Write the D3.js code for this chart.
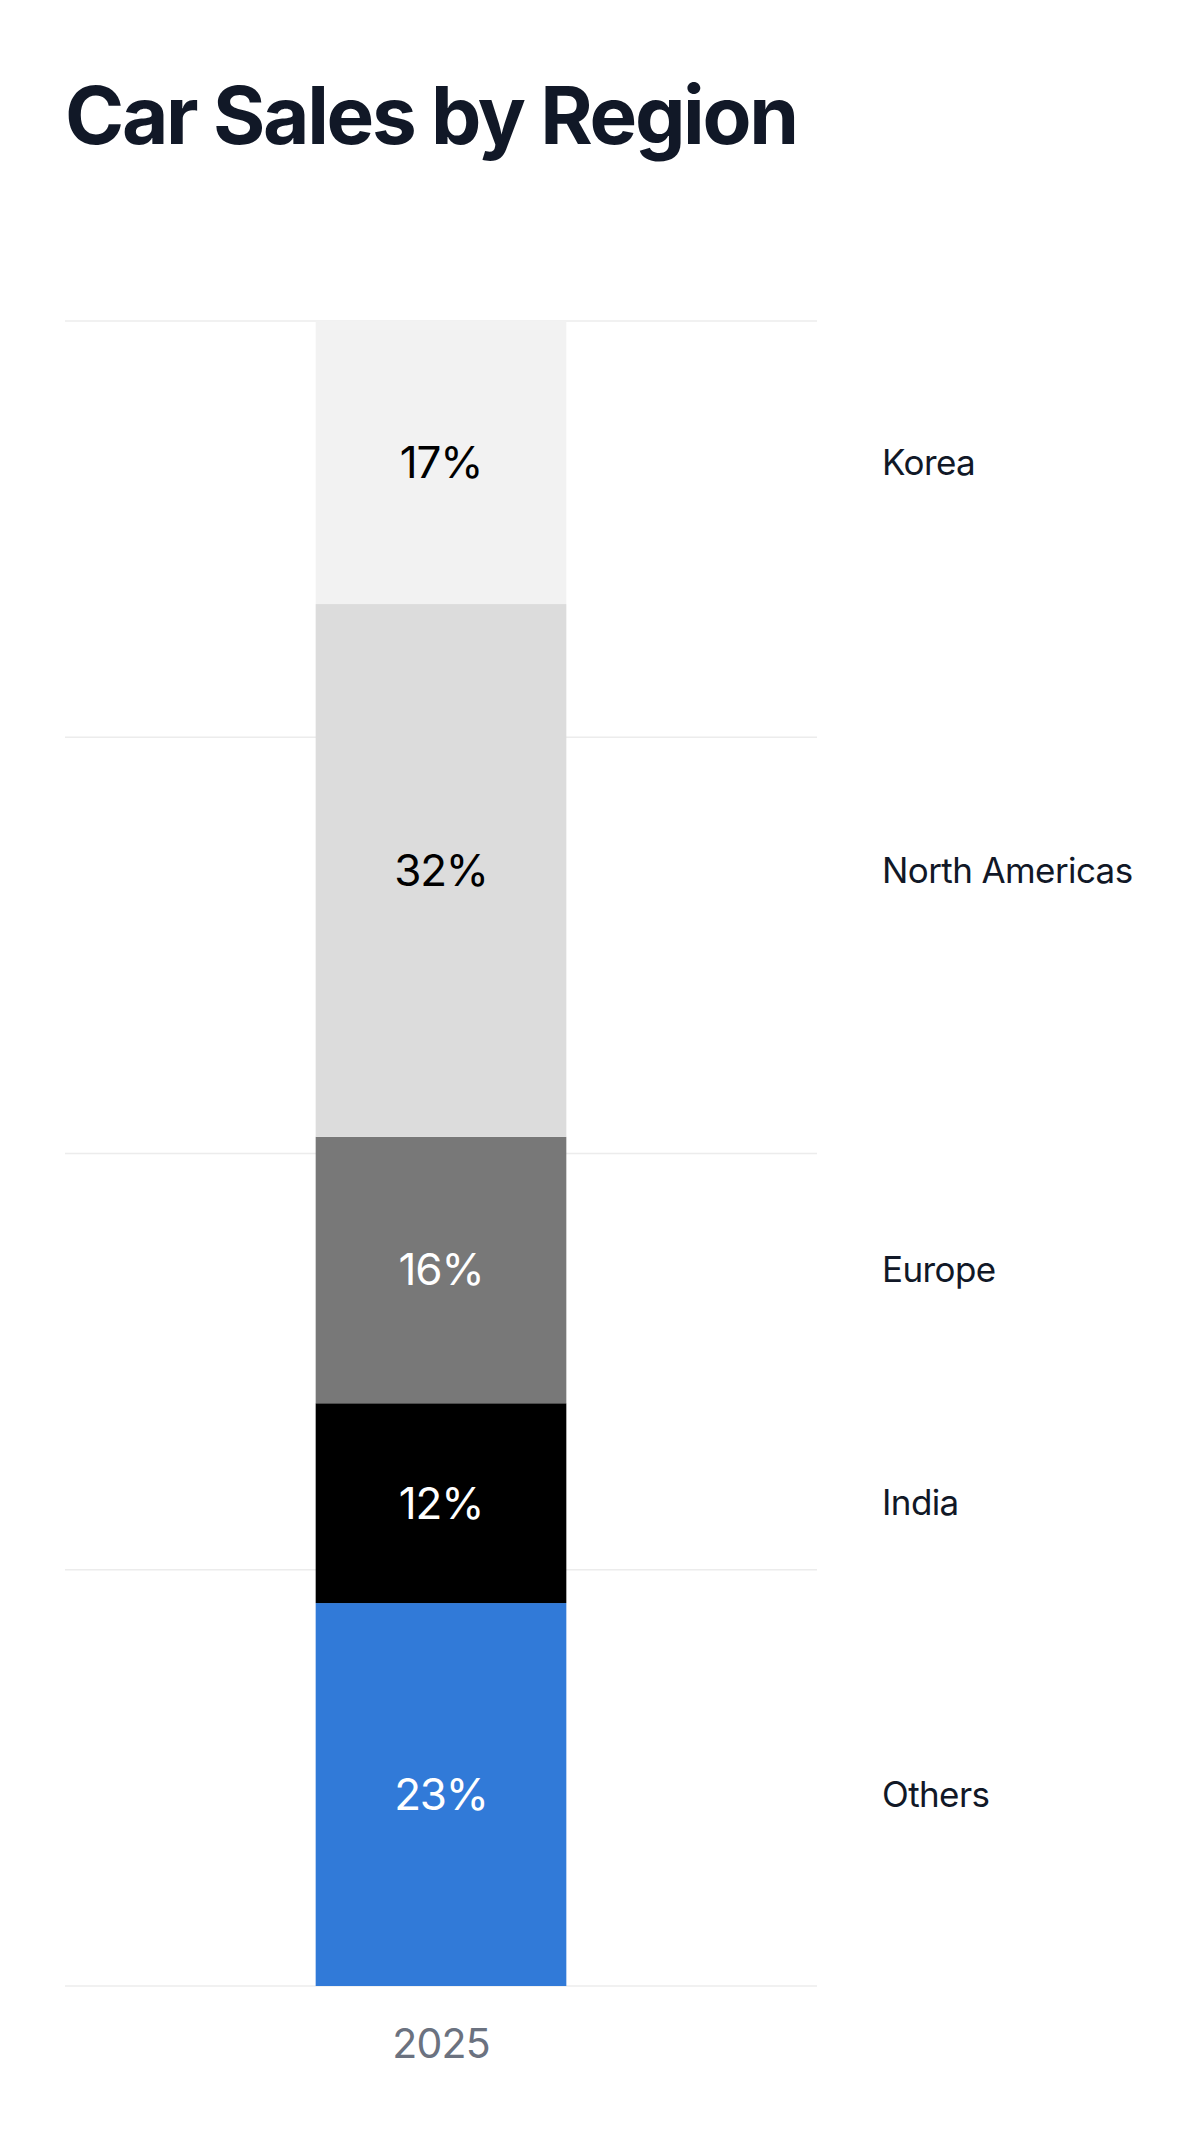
<!DOCTYPE html>
<html>
<head>
<meta charset="utf-8">
<script src="https://cdn.jsdelivr.net/npm/d3@7"></script>
<style>
  body { margin: 0; background: #fff; font-family: Inter, "Noto Sans", sans-serif; }
  svg { display: block; }
</style>
</head>
<body>
<svg id="chart"></svg>
<script>
// data, top of the bar first
const years = ["2025"];
const regions = ["Korea", "North Americas", "Europe", "India", "Others"];
const shares = [17, 32, 16, 12, 23];
const colors = ["#f2f2f2", "#dcdcdc", "#787878", "#000000", "#317ad8"];
const labelColors = ["#000000", "#000000", "#ffffff", "#ffffff", "#ffffff"];
const gridTicks = [0, 25, 50, 75, 100];

const width = 1200;
const height = 2133;
const margin = { top: 321, right: 383, bottom: 147, left: 65 };

const svg = d3.select("#chart").attr("width", width).attr("height", height);

svg.append("text")
  .attr("x", 65)
  .attr("y", 144)
  .attr("font-size", 80)
  .attr("font-weight", 700)
  .attr("letter-spacing", -2.3)
  .attr("fill", "#111827")
  .text("Car Sales by Region");

const x = d3.scaleBand()
  .domain(years)
  .range([margin.left, width - margin.right])
  .padding(0.5);

const y = d3.scaleLinear()
  .domain([0, 100])
  .range([height - margin.bottom, margin.top]);

// gridlines
svg.append("g")
  .selectAll("line")
  .data(gridTicks)
  .join("line")
  .attr("x1", margin.left)
  .attr("x2", width - margin.right)
  .attr("y1", d => y(d))
  .attr("y2", d => y(d))
  .attr("stroke", "#ececec")
  .attr("stroke-width", 1.5);

// stack from the bottom up, so reverse the keys
const row = { year: "2025" };
regions.forEach((r, i) => row[r] = shares[i]);
const stack = d3.stack().keys(regions.slice().reverse());
const series = stack([row]);

const seg = svg.append("g")
  .selectAll("g")
  .data(series)
  .join("g");

seg.append("rect")
  .attr("x", x("2025"))
  .attr("width", x.bandwidth())
  .attr("y", d => y(d[0][1]))
  .attr("height", d => y(d[0][0]) - y(d[0][1]))
  .attr("fill", d => colors[regions.indexOf(d.key)]);

seg.append("text")
  .attr("x", x("2025") + x.bandwidth() / 2)
  .attr("y", d => (y(d[0][0]) + y(d[0][1])) / 2)
  .attr("dy", "0.35em")
  .attr("text-anchor", "middle")
  .attr("font-size", 44)
  .attr("letter-spacing", -1.2)
  .attr("fill", d => labelColors[regions.indexOf(d.key)])
  .text(d => d[0].data[d.key] + "%");

// region names on the right
seg.append("text")
  .attr("x", 882)
  .attr("y", d => (y(d[0][0]) + y(d[0][1])) / 2)
  .attr("dy", "0.35em")
  .attr("font-size", 35)
  .attr("letter-spacing", -0.6)
  .attr("fill", "#111827")
  .text(d => d.key);

// x axis
const xAxis = svg.append("g")
  .attr("transform", `translate(0,${height - margin.bottom})`)
  .call(d3.axisBottom(x).tickSize(0));
xAxis.select(".domain").remove();
xAxis.selectAll("text")
  .attr("y", 58)
  .attr("dy", "0.35em")
  .attr("font-size", 41)
  .attr("letter-spacing", -0.8)
  .attr("font-family", "Inter, sans-serif")
  .attr("fill", "#6b7280");
</script>
</body>
</html>
